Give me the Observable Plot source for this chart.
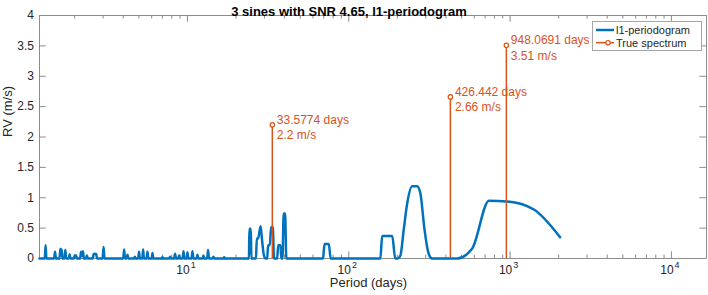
<!DOCTYPE html>
<html><head><meta charset="utf-8">
<script src="https://cdn.jsdelivr.net/npm/d3@7"></script>
<script src="https://cdn.jsdelivr.net/npm/@observablehq/plot@0.6"></script>
<style>body{margin:0;background:#fff}</style>
</head><body><div id="chart"></div>
<script>
// l1-periodogram (period in days, amplitude in m/s)
const periods = [1.21,
 1.305,1.32,1.335, 1.49,1.51,1.53, 1.61,1.63,1.645,1.66,1.68, 1.73,1.75,1.77, 1.84,1.86,1.88,
 1.975,2.0,2.04,2.065, 2.16,2.19,2.22,2.25,2.28, 2.35,2.38,2.41, 2.59,2.62,2.67,2.72,2.75,
 2.98,3.02,3.06, 4.0,4.05,4.1, 4.2,4.25,4.3, 4.66,4.72,4.78, 4.95,5.01,5.07, 5.25,5.31,5.37,
 5.58,5.65,5.72, 6.0,6.07,6.14, 6.92,7.0,7.08, 7.7,7.8,7.9, 8.27,8.38,8.49, 8.76,8.87,8.98,
 9.33,9.45,9.57, 9.88,10.0,10.12, 10.6,10.74,10.88, 11.4,11.53,11.67, 12.4,12.56,12.72,
 13.25,13.42,13.59, 14.3,14.49,14.68, 16.7,16.9,17.1,
 24.05,24.2,24.7,24.9, 26.6,26.9,27.4,28.4,29.0,29.8,30.5, 31.2,31.6,32.4,33.0,33.8,34.4,
 36.0,36.5,37.7,38.2, 38.8,39.5,40.3,41.0, 69.2,70.8,75.2,77.2,
 157,161,186,194,200, 209,219,230,247,265,278,294,311,328,
 469,581,740,955,1396,2042];
const rv = [0,
 0,0.22,0, 0,0.11,0, 0,0.16,0.1,0.15,0, 0,0.14,0, 0,0.07,0,
 0,0.05,0.05,0, 0,0.11,0.04,0.12,0, 0,0.05,0, 0,0.07,0.08,0.07,0,
 0,0.19,0, 0,0.15,0, 0,0.06,0, 0,0.03,0, 0,0.11,0, 0,0.15,0,
 0,0.11,0, 0,0.09,0, 0,0.02,0, 0,0.03,0, 0,0.08,0, 0,0.05,0,
 0,0.12,0, 0,0.1,0, 0,0.12,0, 0,0.06,0, 0,0.05,0,
 0,0.14,0, 0,0.03,0, 0,0.02,0,
 0,0.49,0.49,0, 0,0.33,0.33,0.53,0.3,0.05,0, 0,0.22,0.22,0.52,0.52,0,
 0,0.22,0.22,0, 0,0.74,0.74,0, 0,0.24,0.24,0,
 0,0.37,0.37,0,0, 0.05,0.47,0.9,1.19,1.19,1.07,0.5,0.1,0,
 0,0.16,0.95,0.94,0.81,0.35];
// true spectrum
const truePeriods = [33.5774, 426.442, 948.0691];
const trueAmps = [2.2, 2.66, 3.51];
// ticks
const xTicks = [10, 100, 1000, 10000];
const xTickBase = ["10", "10", "10", "10"];
const xTickExp = ["1", "2", "3", "4"];
const xMinor = [2,3,4,5,6,7,8,9,20,30,40,50,60,70,80,90,200,300,400,500,600,700,800,900,2000,3000,4000,5000,6000,7000,8000,9000];
const yTicks = [0, 0.5, 1, 1.5, 2, 2.5, 3, 3.5, 4];
const yTickLabels = ["0", "0.5", "1", "1.5", "2", "2.5", "3", "3.5", "4"];

const blue = "#0072BD", orange = "#D95319", axisCol = "#8c8c8c", textCol = "#262626";
const W = 708, H = 295, mL = 39, mR = 2, mT = 15, mB = 37;
const fw = W - mL - mR, fh = H - mT - mB;
const majL = 6.7, minL = 3.5;

const line = periods.map((p, i) => ({p, v: rv[i]}));
const truth = truePeriods.map((p, i) => ({p, a: trueAmps[i]}));

const chart = Plot.plot({
  width: W, height: H,
  marginLeft: mL, marginRight: mR, marginTop: mT, marginBottom: mB,
  style: {fontFamily: "'Liberation Sans', Arial, sans-serif", fontSize: "12px", background: "#fff"},
  x: {type: "log", domain: [1.21, 16500], axis: null},
  y: {domain: [0, 4], axis: null},
  marks: [
    Plot.frame({stroke: axisCol, strokeWidth: 1}),
    Plot.ruleX(xTicks, {x: d => d, insetTop: fh - majL, stroke: axisCol}),
    Plot.ruleX(xTicks, {x: d => d, insetBottom: fh - majL, stroke: axisCol}),
    Plot.ruleX(xMinor, {x: d => d, insetTop: fh - minL, stroke: axisCol}),
    Plot.ruleX(xMinor, {x: d => d, insetBottom: fh - minL, stroke: axisCol}),
    Plot.ruleY(yTicks, {y: d => d, insetRight: fw - majL, stroke: axisCol}),
    Plot.ruleY(yTicks, {y: d => d, insetLeft: fw - majL, stroke: axisCol}),
    Plot.line(line, {x: "p", y: "v", stroke: blue, strokeWidth: 2.5, curve: "monotone-x", strokeLinejoin: "round"}),
    Plot.ruleX(truth, {x: "p", y1: 0, y2: "a", stroke: orange, strokeWidth: 1.5}),
    Plot.dot(truth, {x: "p", y: "a", r: 2.2, stroke: orange, fill: "white", strokeWidth: 1.2}),
    Plot.text(truth, {x: "p", y: "a", text: d => `${d.p} days\n${d.a} m/s`, textAnchor: "start", dx: 4.5, dy: 1.5, fontSize: 12, lineHeight: 1.3, fill: orange}),
    Plot.text(xTicks, {x: d => d, frameAnchor: "bottom", dy: 15, dx: -4.5, text: (d, i) => xTickBase[i], fontSize: 12, fill: textCol}),
    Plot.text(xTicks, {x: d => d, frameAnchor: "bottom", dy: 9.5, dx: 3.2, textAnchor: "start", text: (d, i) => xTickExp[i], fontSize: 9, fill: textCol}),
    Plot.text(yTicks, {y: d => d, frameAnchor: "left", textAnchor: "end", dx: -5.5, text: (d, i) => yTickLabels[i], fontSize: 12, fill: textCol}),
    Plot.text(["Period (days)"], {frameAnchor: "bottom", dy: 28.5, dx: -4.5, fontSize: 13, fill: textCol}),
    Plot.text(["RV (m/s)"], {frameAnchor: "left", rotate: -90, dx: -31.5, fontSize: 13, fill: textCol}),
    Plot.text(["3 sines with SNR 4.65, l1-periodogram"], {frameAnchor: "top", dy: -9, dx: -24, fontSize: 13, fontWeight: "bold", fill: "#000"})
  ]
});
document.getElementById("chart").appendChild(chart);

// legend box
const svg = d3.select(chart);
const lg = svg.append("g")
  .attr("font-family", "'Liberation Sans', Arial, sans-serif")
  .attr("font-size", 11)
  .attr("text-anchor", "start");
lg.append("rect").attr("x", 592.5).attr("y", 21.5).attr("width", 109).attr("height", 29)
  .attr("fill", "white").attr("stroke", "#a6a6a6").attr("stroke-width", 1);
lg.append("line").attr("x1", 596).attr("x2", 614).attr("y1", 30).attr("y2", 30)
  .attr("stroke", blue).attr("stroke-width", 2.5);
lg.append("text").attr("x", 616).attr("y", 30).attr("dy", "0.35em").attr("fill", textCol).text("l1-periodogram");
lg.append("line").attr("x1", 596).attr("x2", 614).attr("y1", 42.7).attr("y2", 42.7)
  .attr("stroke", orange).attr("stroke-width", 1.5);
lg.append("circle").attr("cx", 608).attr("cy", 42.7).attr("r", 2.2)
  .attr("stroke", orange).attr("fill", "white").attr("stroke-width", 1.2);
lg.append("text").attr("x", 616).attr("y", 42.7).attr("dy", "0.35em").attr("fill", textCol).text("True spectrum");
</script>
</body></html>
